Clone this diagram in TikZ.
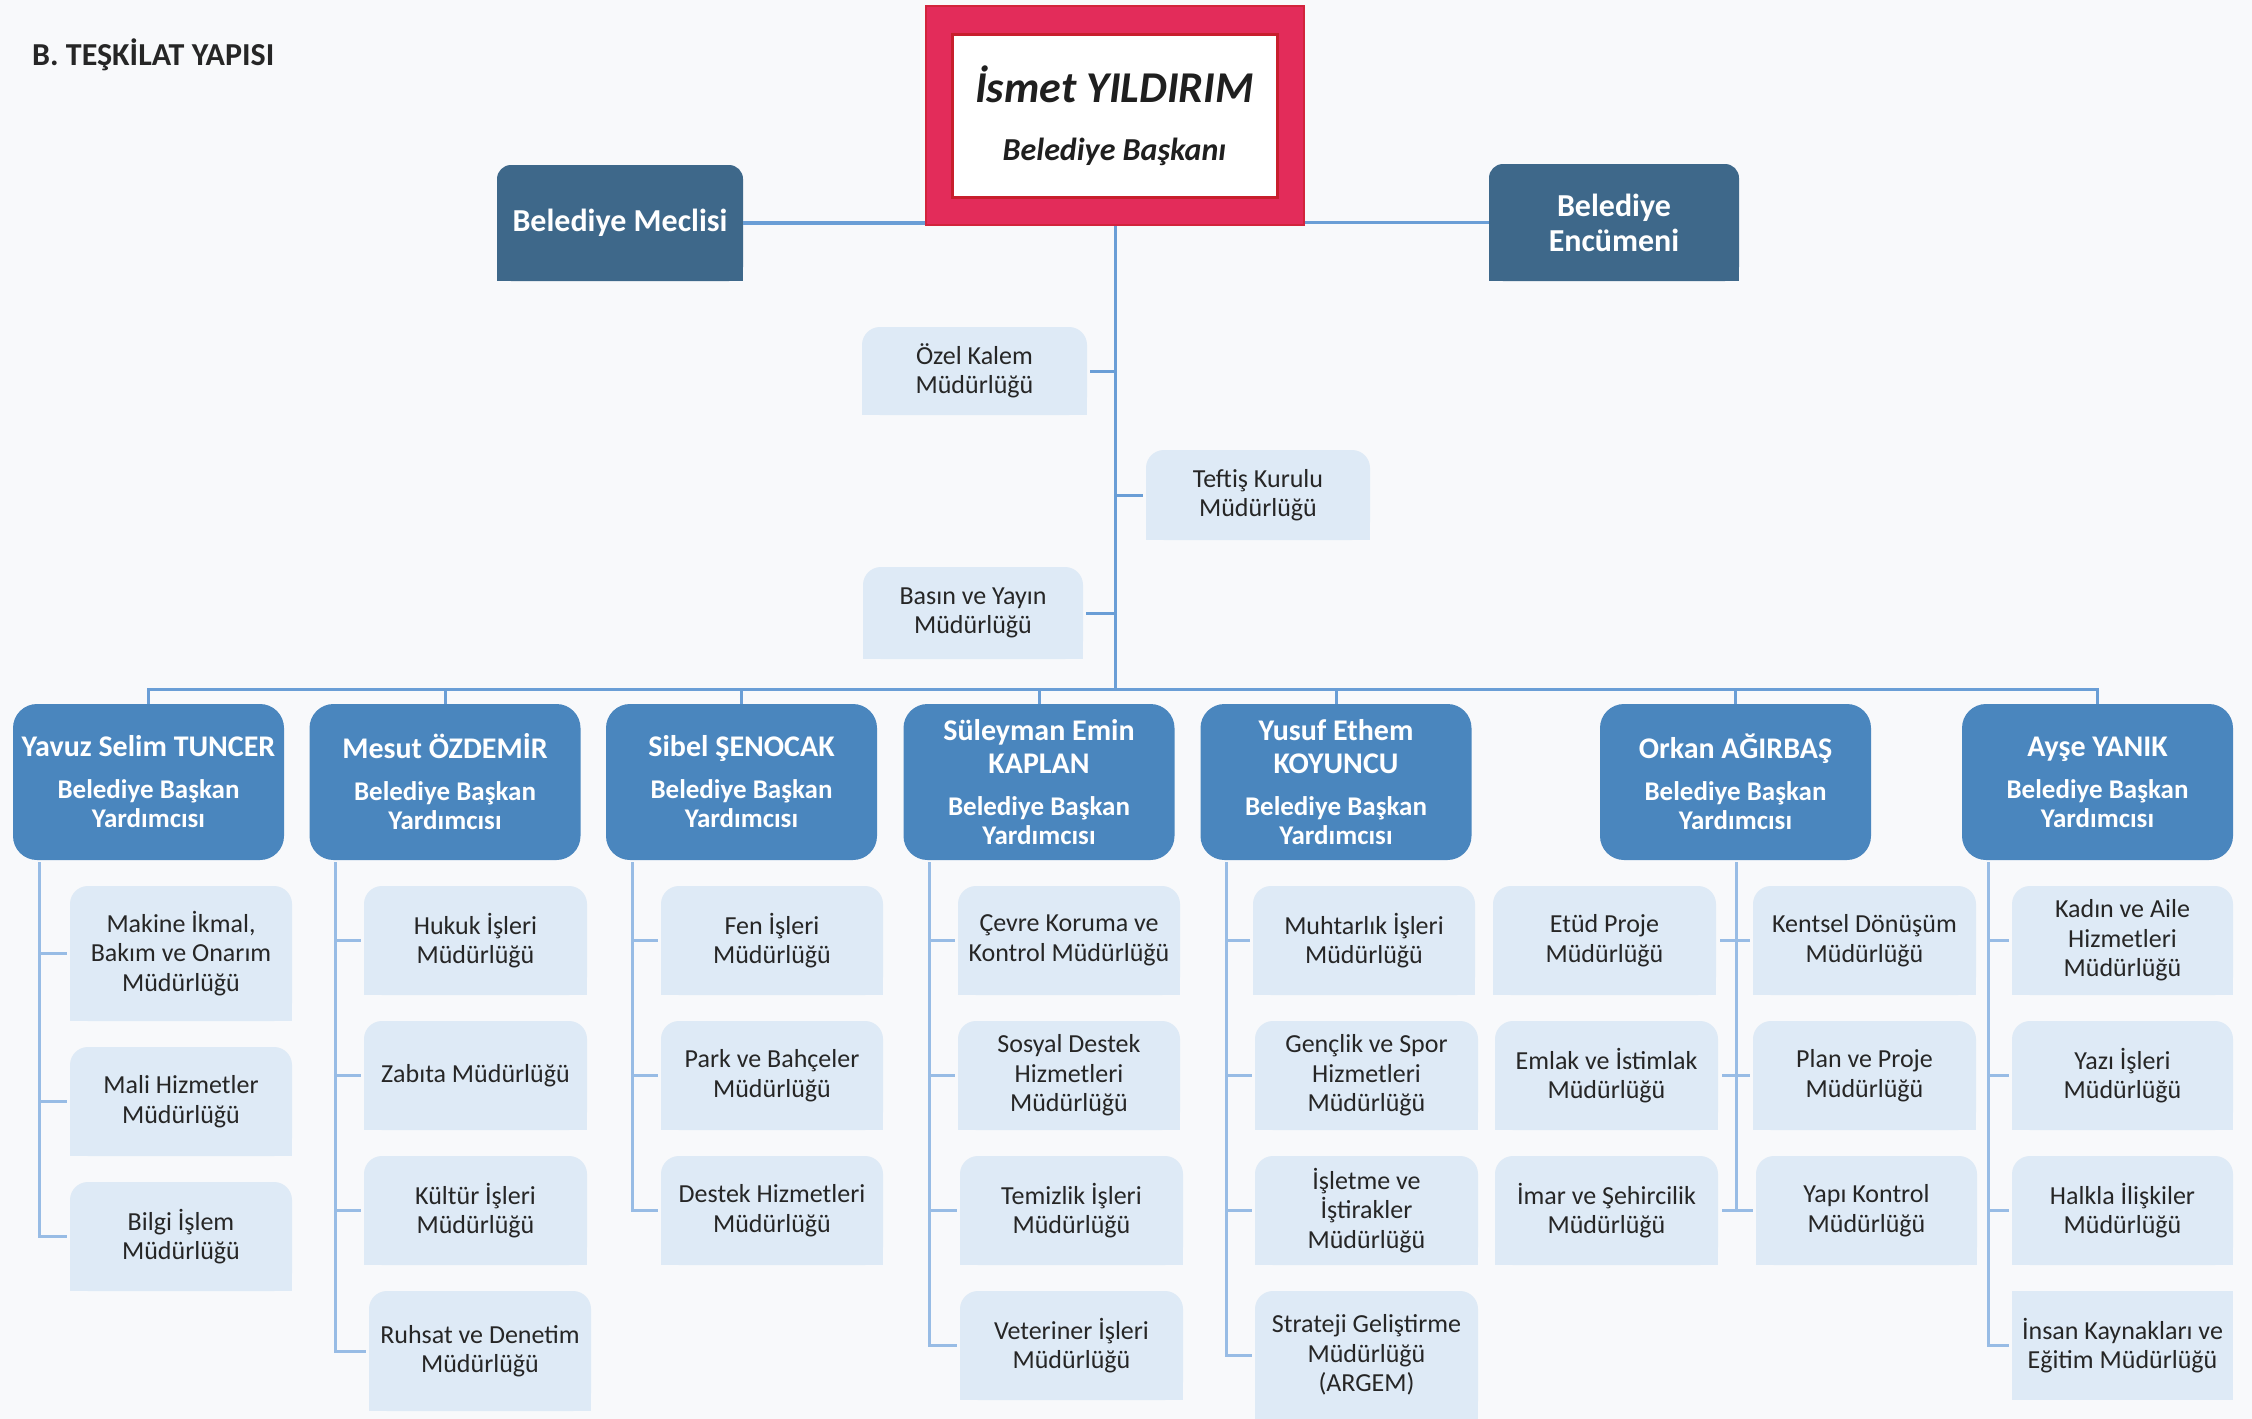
\documentclass[tikz,border=0pt]{standalone}
\usepackage{fontspec}
\setmainfont{Carlito}
\pgfdeclarelayer{bg}
\pgfdeclarelayer{back}
\pgfsetlayers{bg,back,main}
\definecolor{pagec}{RGB}{248,249,251}
\definecolor{vpc}{RGB}{74,134,190}
\definecolor{meclc}{RGB}{62,104,138}
\definecolor{childc}{RGB}{222,234,246}
\definecolor{linec}{RGB}{106,158,214}
\definecolor{sublc}{RGB}{152,188,229}
\definecolor{redc}{RGB}{227,44,90}
\definecolor{redd}{RGB}{210,36,60}
\definecolor{redin}{RGB}{200,30,45}
\definecolor{txtc}{RGB}{38,38,38}
\tikzset{
  trunk/.style={draw=linec, line width=3pt},
  subln/.style={draw=sublc, line width=3pt},
  vpbox/.style={fill=vpc, rounded corners=24pt, minimum width=271pt, minimum height=156pt,
    inner sep=0pt, text=white, align=flush center, text width=264pt, font=\bfseries},
  cbx/.style={fill=childc, rounded corners=18pt, inner sep=0pt, align=flush center,
    text width=216pt, text=txtc, font=\fontsize{26}{29.5}\selectfont},
  topbox/.style={fill=meclc, rounded corners=14pt, inner sep=0pt, align=flush center,
    text=white, font=\bfseries\fontsize{32}{35}\selectfont},
}
\newcommand\cb[6]{%
  \node[cbx,minimum width={#4-#2},minimum height={#5-#3}] (#1) at ({(#2+#4)/2},{(#3+#5)/2}) {#6};
  \begin{pgfonlayer}{back}\fill[childc] (#1.south west) rectangle (#1.east);\end{pgfonlayer}}
\newcommand\vpt[1]{{\fontsize{30}{33}\selectfont #1\par}\vspace{13pt}{\fontsize{27}{29}\selectfont Belediye Başkan\\Yardımcısı\par}}
\newcommand\vp[4]{\node[vpbox] (#1) at ({(#2+#3)/2},782) {\vpt{#4}};}
\begin{document}
\begin{tikzpicture}[x=1pt,y=-1pt]
\begin{pgfonlayer}{bg}
  \fill[pagec] (0,0) rectangle (2252,1419);
\end{pgfonlayer}
\useasboundingbox (0,0) rectangle (2252,1419);

% title
\node[anchor=west, inner sep=0pt, text=txtc, font=\bfseries\fontsize{32}{36}\selectfont] (title) at (32,55) {B. TEŞKİLAT YAPISI};

% mayor
\node[fill=redc, draw=redd, line width=2pt, minimum width=378pt, minimum height=219pt, inner sep=0pt] (mayor) at (1115,115.5) {};
\node[fill=white, draw=redin, line width=3pt, minimum width=325pt, minimum height=163pt, inner sep=0pt,
  align=flush center, text width=316pt, text=black!88, font=\bfseries\itshape] (pres) at (1114.5,115.5)
  {{\fontsize{44}{48}\selectfont İsmet YILDIRIM\par}{\fontsize{32}{58}\selectfont Belediye Başkanı\par}};

% council boxes
\node[topbox, minimum width=246pt, minimum height=116pt, text width=240pt] (meclis) at (620,223) {Belediye Meclisi};
\begin{pgfonlayer}{back}\fill[meclc] (meclis.south west) rectangle (meclis.east);\end{pgfonlayer}
\node[topbox, minimum width=250pt, minimum height=117pt, text width=240pt] (encumen) at (1614,222.5) {Belediye\\Encümeni};
\begin{pgfonlayer}{back}\fill[meclc] (encumen.south west) rectangle (encumen.east);\end{pgfonlayer}
\draw[trunk, line width=3.5pt] (meclis.east) -- (meclis.east -| mayor.west);
\draw[trunk, line width=3.5pt] (encumen.west) -- (encumen.west -| mayor.east);

% staff units
\cb{ozel}{862}{327}{1087}{415}{Özel Kalem\\Müdürlüğü}
\cb{teftis}{1146}{450}{1370}{540}{Teftiş Kurulu\\Müdürlüğü}
\cb{basin}{863}{567}{1083}{659}{Basın ve Yayın\\Müdürlüğü}

\coordinate (bus) at (1115,689);
\draw[trunk] (mayor.south) -- (bus);
\draw[trunk, shorten <=3pt] (ozel.east) -- (ozel.east -| bus);
\draw[trunk, shorten <=3pt] (teftis.west) -- (teftis.west -| bus);
\draw[trunk, shorten <=3pt] (basin.east) -- (basin.east -| bus);

% deputy mayors
\vp{vp1}{13}{284}{Yavuz Selim TUNCER}
\vp{vp2}{310}{580}{Mesut ÖZDEMİR}
\vp{vp3}{606}{877}{Sibel ŞENOCAK}
\vp{vp4}{903}{1175}{Süleyman Emin\\KAPLAN}
\vp{vp5}{1201}{1471}{Yusuf Ethem\\KOYUNCU}
\vp{vp6}{1600}{1871}{Orkan AĞIRBAŞ}
\vp{vp7}{1962}{2233}{Ayşe YANIK}
\foreach \v in {vp1,vp2,vp3,vp4,vp5,vp6,vp7}{
  \draw[trunk] (bus) -| (\v.north);
}

% column 1
\cb{a1}{70}{886}{292}{1021}{Makine İkmal,\\Bakım ve Onarım\\Müdürlüğü}
\cb{a2}{70}{1047}{292}{1156}{Mali Hizmetler\\Müdürlüğü}
\cb{a3}{70}{1182}{292}{1291}{Bilgi İşlem\\Müdürlüğü}
% column 2
\cb{b1}{364}{886}{587}{995}{Hukuk İşleri\\Müdürlüğü}
\cb{b2}{364}{1021}{587}{1130}{Zabıta Müdürlüğü}
\cb{b3}{364}{1156}{587}{1265}{Kültür İşleri\\Müdürlüğü}
\cb{b4}{369}{1291}{591}{1411}{Ruhsat ve Denetim\\Müdürlüğü}
% column 3
\cb{c1}{661}{886}{883}{995}{Fen İşleri\\Müdürlüğü}
\cb{c2}{661}{1021}{883}{1130}{Park ve Bahçeler\\Müdürlüğü}
\cb{c3}{661}{1156}{883}{1265}{Destek Hizmetleri\\Müdürlüğü}
% column 4
\cb{d1}{958}{886}{1180}{995}{Çevre Koruma ve\\Kontrol Müdürlüğü}
\cb{d2}{958}{1021}{1180}{1130}{Sosyal Destek\\Hizmetleri\\Müdürlüğü}
\cb{d3}{960}{1156}{1183}{1265}{Temizlik İşleri\\Müdürlüğü}
\cb{d4}{960}{1291}{1183}{1400}{Veteriner İşleri\\Müdürlüğü}
% column 5
\cb{e1}{1253}{886}{1475}{995}{Muhtarlık İşleri\\Müdürlüğü}
\cb{e2}{1255}{1021}{1478}{1130}{Gençlik ve Spor\\Hizmetleri\\Müdürlüğü}
\cb{e3}{1255}{1156}{1478}{1265}{İşletme ve\\İştirakler\\Müdürlüğü}
\cb{e4}{1255}{1291}{1478}{1419}{Strateji Geliştirme\\Müdürlüğü\\(ARGEM)}
% column 6
\cb{f1}{1493}{886}{1716}{995}{Etüd Proje\\Müdürlüğü}
\cb{f2}{1495}{1021}{1718}{1130}{Emlak ve İstimlak\\Müdürlüğü}
\cb{f3}{1495}{1156}{1718}{1265}{İmar ve Şehircilik\\Müdürlüğü}
\cb{g1}{1753}{886}{1976}{995}{Kentsel Dönüşüm\\Müdürlüğü}
\cb{g2}{1753}{1021}{1976}{1130}{Plan ve Proje\\Müdürlüğü}
\cb{g3}{1756}{1156}{1977}{1265}{Yapı Kontrol\\Müdürlüğü}
% column 7
\cb{h1}{2012}{886}{2233}{995}{Kadın ve Aile\\Hizmetleri\\Müdürlüğü}
\cb{h2}{2012}{1021}{2233}{1130}{Yazı İşleri\\Müdürlüğü}
\cb{h3}{2012}{1156}{2233}{1265}{Halkla İlişkiler\\Müdürlüğü}
\node[cbx, rounded corners=0pt, minimum width=221pt, minimum height=109pt] (h4) at (2122.5,1345.5) {İnsan Kaynakları ve\\Eğitim Müdürlüğü};

% subordinate connectors
\coordinate (k1) at (39,862);
\coordinate (k2) at (335,862);
\coordinate (k3) at (632,862);
\coordinate (k4) at (929,862);
\coordinate (k5) at (1226,862);
\coordinate (k6) at (1736,862);
\coordinate (k7) at (1988,862);
\foreach \k/\b in {k1/a1,k1/a2,k1/a3,k2/b1,k2/b2,k2/b3,k2/b4,k3/c1,k3/c2,k3/c3,
  k4/d1,k4/d2,k4/d3,k4/d4,k5/e1,k5/e2,k5/e3,k5/e4,k6/g1,k6/g2,k6/g3,k7/h1,k7/h2,k7/h3,k7/h4}{
  \draw[subln, shorten >=3pt] (\k) |- (\b.west);
}
\foreach \b in {f1,f2,f3}{
  \draw[subln, shorten >=4pt] (k6) |- (\b.east);
}
\end{tikzpicture}
\end{document}
